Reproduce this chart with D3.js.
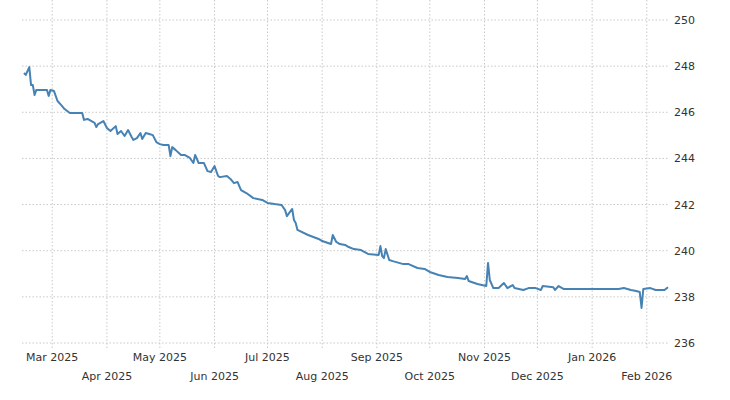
<!DOCTYPE html>
<html><head><meta charset="utf-8">
<script src="https://cdn.jsdelivr.net/npm/d3@7"></script>
<style>body{margin:0;background:#fff}text{font-family:"DejaVu Sans",Arial,sans-serif}</style>
</head><body><svg id="c" width="730" height="400"></svg>
<script>
const dates=["2025-02-13","2025-02-14","2025-02-16","2025-02-17","2025-02-18","2025-02-19","2025-02-20","2025-02-26","2025-02-27","2025-02-28","2025-03-02","2025-03-04","2025-03-06","2025-03-08","2025-03-11","2025-03-18","2025-03-19","2025-03-21","2025-03-25","2025-03-26","2025-03-27","2025-03-30","2025-04-01","2025-04-03","2025-04-06","2025-04-07","2025-04-09","2025-04-11","2025-04-13","2025-04-15","2025-04-16","2025-04-18","2025-04-20","2025-04-21","2025-04-23","2025-04-25","2025-04-27","2025-04-29","2025-05-01","2025-05-03","2025-05-06","2025-05-07","2025-05-08","2025-05-10","2025-05-13","2025-05-15","2025-05-18","2025-05-20","2025-05-21","2025-05-23","2025-05-26","2025-05-28","2025-05-30","2025-06-01","2025-06-03","2025-06-04","2025-06-08","2025-06-10","2025-06-12","2025-06-14","2025-06-16","2025-06-19","2025-06-23","2025-06-28","2025-07-01","2025-07-05","2025-07-09","2025-07-11","2025-07-12","2025-07-15","2025-07-16","2025-07-17","2025-07-18","2025-07-24","2025-07-30","2025-08-01","2025-08-06","2025-08-07","2025-08-09","2025-08-11","2025-08-14","2025-08-16","2025-08-19","2025-08-23","2025-08-27","2025-09-02","2025-09-03","2025-09-04","2025-09-05","2025-09-06","2025-09-08","2025-09-10","2025-09-16","2025-09-19","2025-09-24","2025-09-28","2025-10-01","2025-10-06","2025-10-11","2025-10-17","2025-10-21","2025-10-22","2025-10-23","2025-10-28","2025-11-02","2025-11-03","2025-11-04","2025-11-06","2025-11-09","2025-11-12","2025-11-14","2025-11-17","2025-11-18","2025-11-23","2025-11-26","2025-11-30","2025-12-03","2025-12-04","2025-12-10","2025-12-11","2025-12-13","2025-12-16","2025-12-22","2026-01-05","2026-01-16","2026-01-19","2026-01-23","2026-01-26","2026-01-28","2026-01-29","2026-01-30","2026-02-03","2026-02-06","2026-02-11","2026-02-13"];
const values=[247.70,247.62,247.96,247.18,247.18,246.75,246.97,246.97,246.71,246.97,246.92,246.49,246.32,246.14,245.97,245.97,245.67,245.71,245.54,245.36,245.49,245.62,245.32,245.19,245.40,245.06,245.19,244.97,245.23,244.93,244.80,244.88,245.10,244.84,245.10,245.06,245.01,244.71,244.62,244.58,244.58,244.10,244.49,244.36,244.15,244.15,244.02,243.80,244.15,243.80,243.80,243.45,243.41,243.67,243.24,243.19,243.24,243.11,242.93,242.98,242.63,242.50,242.28,242.20,242.07,242.02,241.98,241.76,241.50,241.81,241.33,241.20,240.90,240.68,240.51,240.42,240.29,240.68,240.38,240.29,240.25,240.16,240.07,240.03,239.86,239.81,240.20,239.77,239.68,240.07,239.60,239.55,239.42,239.42,239.25,239.21,239.08,238.95,238.86,238.82,238.77,238.90,238.69,238.56,238.47,239.47,238.73,238.38,238.38,238.60,238.38,238.51,238.38,238.30,238.38,238.38,238.30,238.47,238.42,238.30,238.47,238.34,238.34,238.34,238.34,238.38,238.30,238.25,238.21,237.52,238.34,238.38,238.30,238.30,238.42];
const yTicks=[236,238,240,242,244,246,248,250];
const xTickLabels=["Mar 2025","Apr 2025","May 2025","Jun 2025","Jul 2025","Aug 2025","Sep 2025","Oct 2025","Nov 2025","Dec 2025","Jan 2026","Feb 2026"];

const parse=d3.timeParse("%Y-%m-%d");
const data=dates.map((d,i)=>({d:parse(d),v:values[i]}));
const svg=d3.select("#c");
const L=22,R=668,T=20,B=343;
const x=d3.scaleTime().domain([parse("2025-02-13"),parse("2026-02-13")]).range([24,668]);
const y=d3.scaleLinear().domain([236,250]).range([B,T]);
const tickDates=xTickLabels.map(s=>d3.timeParse("%b %Y")(s));

const g=svg.append("g");
g.selectAll(".hg").data(yTicks).join("line").attr("x1",L).attr("x2",R)
 .attr("y1",d=>y(d)).attr("y2",d=>y(d)).attr("stroke","#c8c8c8").attr("stroke-dasharray","1.5,2");
g.selectAll(".vg").data(tickDates).join("line").attr("x1",d=>x(d)).attr("x2",d=>x(d))
 .attr("y1",T-20).attr("y2",B+5).attr("stroke","#c8c8c8").attr("stroke-dasharray","1.5,2");

g.selectAll(".yl").data(yTicks).join("text").attr("x",674).attr("y",d=>y(d)+4)
 .attr("font-size",11).attr("fill","#333").text(d=>d);
g.selectAll(".xl").data(tickDates).join("text").attr("x",d=>x(d))
 .attr("y",(d,i)=>i%2===0?361:380).attr("text-anchor","middle").attr("font-size",11).attr("fill","#333")
 .text((d,i)=>xTickLabels[i]);

svg.append("path").datum(data).attr("fill","none").attr("stroke","#4682b4").attr("stroke-width",2)
 .attr("stroke-linejoin","round")
 .attr("d",d3.line().x(d=>x(d.d)).y(d=>y(d.v)));
</script></body></html>
